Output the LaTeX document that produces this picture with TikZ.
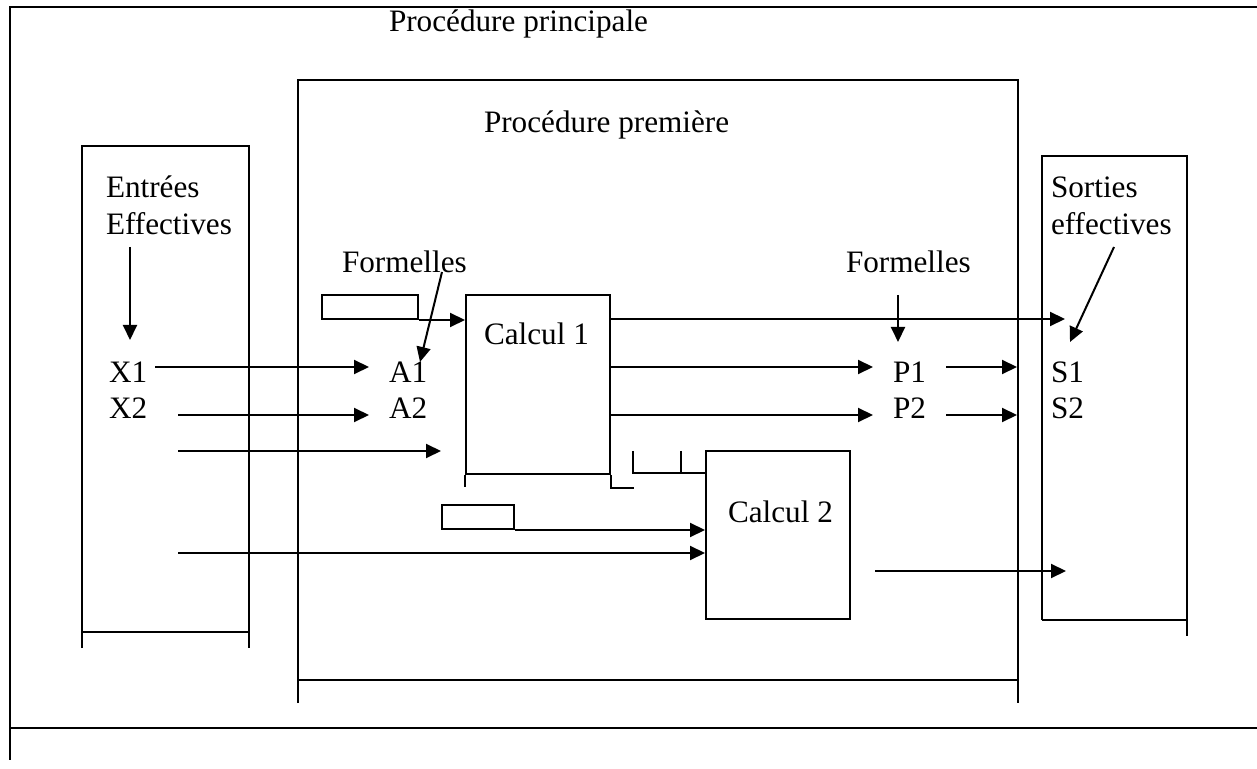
\documentclass[tikz,border=0pt]{standalone}
\usepackage{fontspec}
\setmainfont{Liberation Serif}
\usetikzlibrary{arrows.meta,calc}
\tikzset{
  flow/.style={-{Triangle[length=7.5pt,width=7pt]}},
  lbl/.style={inner sep=0pt, anchor=base west, font=\fontsize{15.6}{18}\selectfont},
  calcbox/.style={draw, inner sep=0pt, minimum width=72pt},
  tab/.style={draw, inner sep=0pt, minimum height=12pt}
}
\begin{document}
\begin{tikzpicture}[x=0.5pt,y=-0.5pt,line width=1pt]
    \useasboundingbox (0,0) rectangle (1257,769);
    % cadre principal
    \draw (1257,7) -- (10,7) -- (10,760);
    \draw (10,728) -- (1257,728);
    \node[lbl] (main) at (388,32) {Procédure principale};
    % entrees
    \draw (82,648) -- (82,146) -- (249,146) -- (249,648);
    \draw (82,632) -- (249,632);
    \node[lbl] (entA) at (105,198) {Entrées};
    \node[lbl] (entB) at (105,235) {Effectives};
    % procedure premiere
    \draw (298,703) -- (298,80) -- (1018,80) -- (1018,703);
    \draw (298,680) -- (1018,680);
    \node[lbl] (prem) at (483,133) {Procédure première};
    % sorties
    \draw (1042,620) -- (1042,156) -- (1187,156) -- (1187,636);
    \draw (1042,620) -- (1187,620);
    \node[lbl] (sortA) at (1050,198) {Sorties};
    \node[lbl] (sortB) at (1050,235) {effectives};
    % calculs
    \node[calcbox, minimum height=89.5pt] (calcA) at (538,384.5) {};
    \draw (calcA.south west) -- ++(0,12);
    \draw (calcA.south east) -- ++(0,13) -- ++(23,0);
    \node[lbl] (calcAtxt) at ($(calcA.north west)+(18,51)$) {Calcul 1};
    \node[calcbox, minimum height=84pt] (calcB) at (778,535) {};
    \draw ($(calcB.north west)+(-72,1)$) |- ($(calcB.north west)+(0,23)$);
    \draw ($(calcB.north west)+(-24,1)$) -- ++(0,22);
    \node[lbl] (calcBtxt) at ($(calcB.north west)+(22,73)$) {Calcul 2};
    \node[tab, minimum width=48pt] (tabA) at (370,307) {};
    \node[tab, minimum width=36pt] (tabB) at (478,517) {};
    % parametres
    \node[lbl] (x1) at (108,383) {X1};
    \node[lbl] (x2) at (108,419) {X2};
    \node[lbl] (a1) at (388,383) {A1};
    \node[lbl] (a2) at (388,419) {A2};
    \node[lbl] (p1) at (892,383) {P1};
    \node[lbl] (p2) at (892,419) {P2};
    \node[lbl] (s1) at (1050,383) {S1};
    \node[lbl] (s2) at (1050,419) {S2};
    \node[lbl] (formL) at (341,273) {Formelles};
    \node[lbl] (formR) at (845,273) {Formelles};
    \coordinate (inC) at (178,451);
    \coordinate (inD) at (178,553);
    \coordinate (outA) at (1065,319);
    % fleches
    \draw[flow] ($(entB.base west)+(25,12)$) -- ($(x1.base west)+(22,-43)$);
    \draw[flow] ($(formL.base west)+(101,-1)$) -- ($(a1.base west)+(32,-21)$);
    \draw[flow] ($(formR.base west)+(53,22)$) -- ($(p1.base west)+(6,-41)$);
    \draw[flow] ($(sortB.base west)+(64,12)$) -- ($(s1.base west)+(20,-41)$);
    \draw[flow] ($(x1.base west)+(47,-16)$) -- ($(a1.base west)+(-19,-16)$);
    \draw[flow] ($(x2.base west)+(70,-4)$) -- ($(a2.base west)+(-19,-4)$);
    \draw[flow] (inC) -- ($(calcA.west |- inC)+(-24,0)$);
    \draw[flow] (inD) -- (calcB.west |- inD);
    \draw[flow] (tabA.south east) -- (tabA.south east -| calcA.west);
    \draw[flow] (tabB.south east) -- (tabB.south east -| calcB.west);
    \draw[flow] (calcA.east |- outA) -- (outA);
    \draw[flow] ($(calcA.east |- p1.base)+(0,-16)$) -- ($(p1.base west)+(-19,-16)$);
    \draw[flow] ($(calcA.east |- p2.base)+(0,-4)$) -- ($(p2.base west)+(-19,-4)$);
    \draw[flow] ($(p1.base west)+(54,-16)$) -- ($(s1.base west)+(-33,-16)$);
    \draw[flow] ($(p2.base west)+(54,-4)$) -- ($(s2.base west)+(-33,-4)$);
    \draw[flow] ($(calcB.east)+(24,36)$) -- ($(calcB.east)+(215,36)$);
\end{tikzpicture}
\end{document}
